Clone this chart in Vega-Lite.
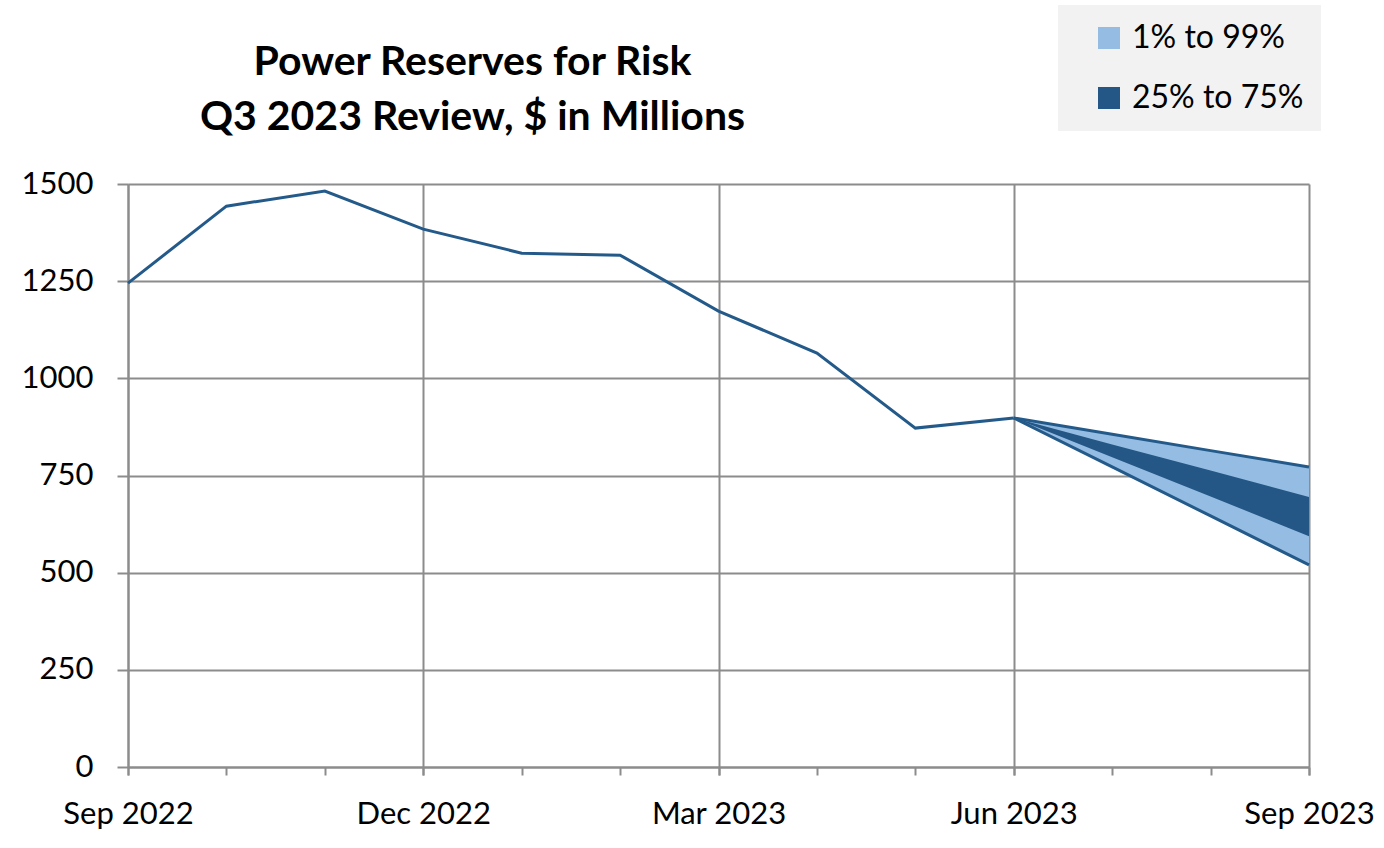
{
  "$schema": "https://vega.github.io/schema/vega-lite/v6.json",
  "autosize": {"type": "none"},
  "width": 1181,
  "height": 583,
  "padding": {"left": 128, "top": 184, "right": 75, "bottom": 81},
  "background": "white",
  "title": {
    "text": ["Power Reserves for Risk", "Q3 2023 Review, $ in Millions"],
    "font": "Lato",
    "fontSize": 41,
    "fontWeight": "bold",
    "color": "black",
    "anchor": "middle",
    "frame": "group",
    "dx": -246,
    "offset": -134,
    "lineHeight": 55
  },
  "data": {
    "values": [
      {"month": "Sep 2022", "value": 1245},
      {"month": "Oct 2022", "value": 1443},
      {"month": "Nov 2022", "value": 1482},
      {"month": "Dec 2022", "value": 1384},
      {"month": "Jan 2023", "value": 1322},
      {"month": "Feb 2023", "value": 1317},
      {"month": "Mar 2023", "value": 1173},
      {"month": "Apr 2023", "value": 1065},
      {"month": "May 2023", "value": 872},
      {"month": "Jun 2023", "value": 898, "p1": 898, "p25": 898, "p75": 898, "p99": 898},
      {"month": "Jul 2023", "p1": 772, "p25": 797, "p75": 830, "p99": 856},
      {"month": "Aug 2023", "p1": 646, "p25": 696, "p75": 763, "p99": 814},
      {"month": "Sep 2023", "p1": 520, "p25": 594, "p75": 695, "p99": 772}
    ]
  },
  "config": {
    "view": {"stroke": null},
    "axis": {
      "domainColor": "#8c8c8c",
      "domainWidth": 2,
      "gridColor": "#8c8c8c",
      "gridWidth": 2,
      "tickColor": "#8c8c8c",
      "tickWidth": 2,
      "labelFont": "Lato",
      "labelFontSize": 31,
      "labelColor": "black",
      "title": null
    },
    "legend": {
      "labelFont": "Lato",
      "labelFontSize": 32,
      "labelColor": "black"
    }
  },
  "resolve": {"scale": {"x": "shared", "y": "shared"}, "axis": {"x": "independent"}},
  "layer": [
    {
      "mark": {"type": "area", "opacity": 1},
      "encoding": {
        "x": {
          "field": "month", "type": "ordinal",
          "scale": {"type": "point", "padding": 0, "domain": ["Sep 2022","Oct 2022","Nov 2022","Dec 2022","Jan 2023","Feb 2023","Mar 2023","Apr 2023","May 2023","Jun 2023","Jul 2023","Aug 2023","Sep 2023"]},
          "axis": {
            "orient": "bottom",
            "values": ["Sep 2022","Oct 2022","Nov 2022","Dec 2022","Jan 2023","Feb 2023","Mar 2023","Apr 2023","May 2023","Jun 2023","Jul 2023","Aug 2023","Sep 2023"],
            "labels": false, "grid": false, "ticks": true, "tickSize": 8, "domain": true
          }
        },
        "y": {
          "field": "p1", "type": "quantitative",
          "scale": {"domain": [0, 1500], "nice": false, "zero": true},
          "axis": {"values": [0, 250, 500, 750, 1000, 1250, 1500], "format": "d", "grid": true, "tickSize": 11, "labelPadding": 24, "domain": true}
        },
        "y2": {"field": "p99"},
        "color": {
          "datum": "1% to 99%",
          "scale": {"domain": ["1% to 99%", "25% to 75%"], "range": ["#95bde3", "#245785"]},
          "legend": {
            "title": null,
            "orient": "none",
            "legendX": 930,
            "legendY": -179,
            "fillColor": "#f2f2f2",
            "padding": 17,
            "symbolType": "square",
            "symbolSize": 484,
            "symbolStrokeWidth": 0,
            "symbolOpacity": 1,
            "symbolOffset": 18,
            "labelOffset": 7,
            "labelLimit": 400,
            "rowPadding": 28
          }
        }
      }
    },
    {
      "mark": {"type": "area", "opacity": 1},
      "encoding": {
        "x": {"field": "month", "type": "ordinal", "axis": null},
        "y": {"field": "p25", "type": "quantitative", "axis": {"values": [0, 250, 500, 750, 1000, 1250, 1500], "format": "d", "grid": true, "tickSize": 11, "labelPadding": 24, "domain": true}},
        "y2": {"field": "p75"},
        "color": {"datum": "25% to 75%"}
      }
    },
    {
      "mark": {"type": "line", "color": "#245a8a", "strokeWidth": 3},
      "encoding": {
        "x": {"field": "month", "type": "ordinal", "axis": null},
        "y": {"field": "p99", "type": "quantitative", "axis": {"values": [0, 250, 500, 750, 1000, 1250, 1500], "format": "d", "grid": true, "tickSize": 11, "labelPadding": 24, "domain": true}}
      }
    },
    {
      "mark": {"type": "line", "color": "#245a8a", "strokeWidth": 3},
      "encoding": {
        "x": {"field": "month", "type": "ordinal", "axis": null},
        "y": {"field": "p1", "type": "quantitative", "axis": {"values": [0, 250, 500, 750, 1000, 1250, 1500], "format": "d", "grid": true, "tickSize": 11, "labelPadding": 24, "domain": true}}
      }
    },
    {
      "mark": {"type": "line", "color": "#245a8a", "strokeWidth": 3},
      "encoding": {
        "x": {
          "field": "month", "type": "ordinal",
          "axis": {
            "orient": "bottom",
            "values": ["Sep 2022", "Dec 2022", "Mar 2023", "Jun 2023", "Sep 2023"],
            "grid": true, "ticks": true, "tickSize": 8, "domain": false,
            "labelAngle": 0, "labelPadding": 24, "labelOverlap": false, "labelFlush": false, "labelAlign": "center"
          }
        },
        "y": {"field": "value", "type": "quantitative", "axis": {"values": [0, 250, 500, 750, 1000, 1250, 1500], "format": "d", "grid": true, "tickSize": 11, "labelPadding": 24, "domain": true}}
      }
    }
  ]
}
